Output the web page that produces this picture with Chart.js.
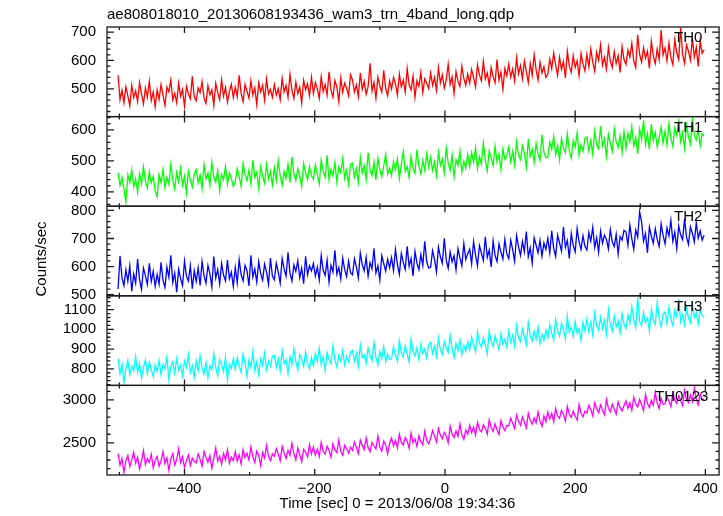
<!DOCTYPE html>
<html><head><meta charset="utf-8">
<script src="https://cdn.jsdelivr.net/npm/chart.js@4/dist/chart.umd.min.js"></script>
<style>html,body{margin:0;padding:0;background:#fff}#wrap{width:723px;height:516px;position:relative}</style>
</head><body><div id="wrap"><canvas id="c" width="723" height="516"></canvas></div>
<script>
const TITLE = 'ae808018010_20130608193436_wam3_trn_4band_long.qdp';
const X_TITLE = 'Time [sec] 0 = 2013/06/08 19:34:36';
const Y_TITLE = 'Counts/sec';
const BANDS = ['TH0', 'TH1', 'TH2', 'TH3', 'TH0123'];

const TIME = [
-502,-499,-496,-493,-490,-487,-484,-481,-478,-475,-472,-469,-466,-463,-460,-457,-454,-451,-448,-445,
-442,-439,-436,-433,-430,-427,-424,-421,-418,-415,-412,-409,-406,-403,-400,-397,-394,-391,-388,-385,
-382,-379,-376,-373,-370,-367,-364,-361,-358,-355,-352,-349,-346,-343,-340,-337,-334,-331,-328,-325,
-322,-319,-316,-313,-310,-307,-304,-301,-298,-295,-292,-289,-286,-283,-280,-277,-274,-271,-268,-265,
-262,-259,-256,-253,-250,-247,-244,-241,-238,-235,-232,-229,-226,-223,-220,-217,-214,-211,-208,-205,
-202,-199,-196,-193,-190,-187,-184,-181,-178,-175,-172,-169,-166,-163,-160,-157,-154,-151,-148,-145,
-142,-139,-136,-133,-130,-127,-124,-121,-118,-115,-112,-109,-106,-103,-100,-97,-94,-91,-88,-85,
-82,-79,-76,-73,-70,-67,-64,-61,-58,-55,-52,-49,-46,-43,-40,-37,-34,-31,-28,-25,
-22,-19,-16,-13,-10,-7,-4,-1,2,5,8,11,14,17,20,23,26,29,32,35,
38,41,44,47,50,53,56,59,62,65,68,71,74,77,80,83,86,89,92,95,
98,101,104,107,110,113,116,119,122,125,128,131,134,137,140,143,146,149,152,155,
158,161,164,167,170,173,176,179,182,185,188,191,194,197,200,203,206,209,212,215,
218,221,224,227,230,233,236,239,242,245,248,251,254,257,260,263,266,269,272,275,
278,281,284,287,290,293,296,299,302,305,308,311,314,317,320,323,326,329,332,335,
338,341,344,347,350,353,356,359,362,365,368,371,374,377,380,383,386,389,392,395,
398];

const TH0 = [
548,462,495,451,507,476,440,512,469,493,455,522,481,447,503,470,527,458,489,436,
497,463,515,478,442,506,489,531,460,484,451,520,473,498,438,509,482,465,544,471,
458,503,486,525,467,449,511,478,496,441,519,487,462,532,474,505,453,490,516,469,
506,472,548,483,455,515,492,467,529,478,503,444,521,489,512,460,535,481,498,470,
515,478,500,462,537,489,512,470,551,495,466,524,483,506,449,530,497,518,475,541,
483,522,501,467,543,490,515,478,560,496,471,529,507,455,538,488,520,502,476,549,
531,489,514,472,556,498,527,481,508,590,493,523,466,541,510,488,565,501,476,528,
499,540,518,478,552,507,531,489,571,514,496,545,470,528,509,558,487,535,520,501,
556,512,540,494,575,521,549,503,531,587,515,542,483,561,526,508,580,537,512,552,
520,568,539,507,584,548,528,597,535,556,513,575,542,521,603,531,559,498,571,546,
587,541,570,528,610,553,582,536,598,561,522,589,547,620,568,531,594,556,578,540,
552,605,571,626,584,547,612,569,596,538,633,580,558,617,575,599,546,624,587,563,
621,578,640,593,562,629,601,655,584,611,570,646,598,575,632,589,617,558,649,603,
586,637,612,661,598,575,690,621,594,645,608,632,572,668,615,589,641,603,707,620,
644,598,662,610,585,673,628,604,715,621,590,655,633,601,678,612,646,579,669,625,
638];

const TH1 = [
462,421,447,408,368,455,430,471,417,442,398,459,426,481,435,412,465,429,450,403,
385,456,431,473,414,447,425,489,438,409,462,433,477,421,451,397,468,440,416,458,
472,429,455,411,488,443,462,420,496,448,431,470,405,457,439,483,426,461,444,418,
433,476,449,417,492,458,436,470,425,503,447,464,412,481,452,429,488,441,467,423,
478,437,501,452,421,466,444,489,430,513,458,436,475,449,417,492,461,440,483,452,
441,487,455,426,503,468,447,518,439,474,452,495,431,481,462,508,444,470,425,489,
493,448,476,432,512,461,485,440,526,470,453,497,438,509,472,449,484,521,458,477,
452,498,471,506,443,489,530,466,482,447,515,477,460,537,484,458,501,469,523,480,
512,469,497,453,528,486,507,462,541,492,470,519,448,503,485,532,464,499,476,521,
481,527,496,542,475,513,490,558,503,468,532,509,485,547,497,523,472,538,505,516,
545,497,531,486,562,518,504,549,526,480,571,515,538,495,557,521,502,584,528,511,
512,561,538,579,520,549,503,572,541,527,588,534,509,566,545,591,518,553,531,572,
578,533,566,521,597,553,540,612,548,571,515,586,557,531,603,562,544,581,527,595,
540,589,561,611,548,576,523,603,570,631,553,588,537,619,566,592,545,574,609,558,
596,552,620,574,547,607,583,626,561,591,540,615,578,555,635,584,568,602,549,588,
579];

const TH2 = [
520,638,561,532,589,548,603,512,574,541,627,553,519,595,568,536,612,547,583,530,
572,537,615,551,526,598,562,640,543,577,509,591,558,532,620,566,548,603,521,585,
547,596,533,618,568,541,604,575,527,636,559,590,538,611,570,549,623,556,580,529,
597,542,625,571,549,604,586,531,640,563,592,545,618,575,552,609,581,537,630,566,
553,612,580,541,629,592,566,651,577,548,606,583,621,560,595,539,637,571,603,585,
611,566,598,552,640,587,569,623,544,605,581,658,573,597,556,630,590,564,619,578,
571,628,599,560,648,607,585,633,566,614,592,665,577,603,552,639,611,584,626,596,
632,586,661,608,573,647,615,590,672,601,629,567,654,612,589,643,604,690,618,595,
598,657,626,581,670,635,612,701,623,594,652,617,639,588,664,631,603,682,625,646,
662,610,689,641,603,675,648,622,706,633,659,599,692,640,618,681,652,627,697,645,
628,694,660,619,711,671,640,689,652,725,635,667,612,702,676,649,693,637,684,661,
701,648,727,665,636,712,684,655,741,669,693,629,718,676,652,735,688,661,710,672,
659,722,691,740,668,703,651,726,683,712,697,663,732,688,671,715,645,707,694,729,
724,676,748,699,661,731,705,795,759,690,718,649,741,708,683,735,697,672,752,711,
681,738,709,765,690,723,664,745,712,696,770,705,679,741,718,688,757,701,727,694,
712];

const TH3 = [
852,776,824,730,801,843,769,815,790,862,781,827,752,808,846,774,835,797,760,821,
787,842,769,823,800,861,745,812,836,778,851,793,820,764,839,807,872,781,816,758,
841,790,866,805,773,832,754,817,795,878,808,764,847,820,786,859,742,826,803,851,
797,857,812,783,875,829,761,846,808,889,791,836,770,851,818,880,795,839,812,864,
868,806,851,789,893,827,848,775,861,820,902,837,796,872,845,812,885,829,800,857,
815,877,839,905,821,860,792,883,850,826,917,845,808,869,838,893,820,862,834,886,
893,838,879,815,921,856,872,827,905,866,841,934,859,820,887,851,913,836,874,848,
851,912,870,838,943,884,859,917,875,835,952,889,864,906,847,926,878,900,855,921,
934,878,915,862,957,896,871,940,908,883,969,902,857,928,891,946,873,918,889,937,
896,961,922,887,985,934,908,959,920,875,992,941,913,968,930,897,978,925,951,910,
991,934,972,915,1018,955,938,1001,963,922,1034,969,941,989,950,1012,927,975,944,996,
956,1024,981,945,1049,992,966,1031,997,952,1068,985,1010,963,1040,978,1002,943,1036,991,
1052,989,1037,971,1083,1018,996,1061,1004,1045,975,1098,1021,990,1067,1012,1043,982,1079,1026,
1004,1072,1031,1115,1049,1008,1163,1040,1019,1086,1035,1058,991,1101,1047,1024,1138,1055,1013,1077,
1089,1030,1112,1051,1018,1096,1064,1152,1039,1075,1022,1108,1057,1033,1124,1062,1085,1026,1098,1071,
1060];

const TH0123 = [
2375,2241,2318,2156,2290,2352,2224,2301,2389,2262,2333,2195,2286,2410,2247,2315,2273,2366,2208,2297,
2341,2226,2289,2397,2258,2325,2180,2312,2375,2243,2301,2430,2269,2336,2214,2292,2358,2237,2320,2281,
2265,2372,2307,2229,2398,2331,2273,2352,2204,2319,2441,2286,2345,2251,2378,2301,2420,2262,2336,2293,
2398,2287,2361,2253,2420,2329,2378,2300,2452,2338,2271,2403,2356,2236,2385,2321,2467,2345,2294,2372,
2342,2431,2368,2290,2459,2384,2318,2412,2355,2496,2377,2302,2440,2361,2279,2423,2390,2336,2478,2369,
2451,2357,2428,2339,2507,2398,2370,2462,2415,2331,2489,2420,2384,2533,2402,2356,2471,2433,2379,2448,
2412,2509,2448,2377,2531,2470,2421,2555,2446,2396,2502,2463,2428,2579,2451,2402,2520,2475,2371,2492,
2556,2463,2529,2440,2601,2507,2472,2563,2521,2438,2614,2499,2545,2458,2582,2514,2476,2637,2526,2491,
2551,2643,2578,2509,2666,2590,2547,2622,2580,2500,2695,2603,2561,2638,2574,2720,2592,2541,2649,2598,
2705,2618,2684,2589,2741,2655,2627,2712,2670,2601,2768,2679,2633,2721,2650,2597,2758,2688,2642,2703,
2698,2786,2731,2669,2823,2750,2704,2801,2742,2675,2845,2760,2718,2789,2733,2860,2752,2691,2812,2745,
2861,2776,2843,2744,2900,2812,2785,2878,2831,2752,2925,2836,2797,2869,2810,2765,2946,2845,2802,2870,
2848,2938,2885,2814,2967,2899,2852,2941,2880,2826,3004,2903,2861,2948,2893,2832,2976,2910,2870,2933,
2990,2902,2967,2879,3031,2951,2918,3005,2942,2876,3062,2958,2911,2996,2937,3089,2963,2899,3020,2948,
2952,3043,2985,2921,3076,2997,2960,3048,2991,2933,3110,3006,2969,3057,2982,3135,3011,2945,3069,3002,
3010];

const SERIES = [TH0, TH1, TH2, TH3, TH0123];
const Y_MIN = [402, 354, 496, 716, 2125];
const Y_MAX = [718, 643, 815, 1170, 3169];
const Y_MAJOR = [100, 100, 100, 100, 500];
const Y_MINOR = [20, 20, 20, 20, 100];
const X_MIN = -519, X_MAX = 421, X_MAJOR = 200, X_MINOR = 100;

const COLORS = ['#ff0000', '#00ff00', '#0000ff', '#00ffff', '#ff00ff'];
const LABEL_X = [674, 674, 674, 674, 655];
const FONT = '"Liberation Sans", Arial, Helvetica, sans-serif';

Chart.defaults.font.family = FONT;
Chart.defaults.font.size = 15;
Chart.defaults.color = '#000';

const fmt = v => (v < 0 ? '\u2212' + Math.abs(v) : String(v));
const majorTicks = (min, max, step) => {
  const out = [];
  for (let v = Math.ceil(min / step) * step; v <= max; v += step) out.push({ value: v });
  return out;
};

const scales = {
  x: {
    type: 'linear', position: 'bottom', min: X_MIN, max: X_MAX,
    grid: { display: false, drawTicks: false }, border: { display: false },
    ticks: { padding: 5, autoSkip: false, maxRotation: 0, callback: fmt },
    afterBuildTicks: s => { s.ticks = majorTicks(X_MIN, X_MAX, X_MAJOR); },
    afterFit: s => { s.height = 41; }
  }
};
for (let i = SERIES.length - 1; i >= 0; i--) {
  scales['y' + i] = {
    type: 'linear', position: 'left', stack: 'panels', stackWeight: 1,
    min: Y_MIN[i], max: Y_MAX[i],
    grid: { display: false, drawTicks: false }, border: { display: false },
    ticks: { padding: 11, autoSkip: false, callback: v => String(v) },
    afterBuildTicks: s => { s.ticks = majorTicks(Y_MIN[i], Y_MAX[i], Y_MAJOR[i]); },
    afterFit: s => { s.width = 107; }
  };
}

const datasets = SERIES.map((arr, i) => ({
  label: BANDS[i],
  data: TIME.map((t, k) => ({ x: t, y: arr[k] })),
  borderColor: COLORS[i], backgroundColor: COLORS[i],
  borderWidth: 1.3, pointRadius: 0, tension: 0, fill: false,
  xAxisID: 'x', yAxisID: 'y' + i
}));

const qdpFrame = {
  id: 'qdpFrame',
  afterDatasetsDraw(chart) {
    const ctx = chart.ctx, ca = chart.chartArea, xs = chart.scales.x;
    ctx.save();
    ctx.strokeStyle = '#1a1a1a';
    ctx.lineWidth = 1.3;
    for (let i = 0; i < SERIES.length; i++) {
      const ys = chart.scales['y' + i];
      const top = ys.top, bot = ys.bottom;
      ctx.strokeRect(ca.left, top, ca.right - ca.left, bot - top);
      ctx.beginPath();
      const ys0 = Math.ceil(Y_MIN[i] / Y_MINOR[i]) * Y_MINOR[i];
      for (let v = ys0; v <= Y_MAX[i]; v += Y_MINOR[i]) {
        const p = ys.getPixelForValue(v);
        const len = (v % Y_MAJOR[i] === 0) ? 7 : 3.5;
        ctx.moveTo(ca.left, p); ctx.lineTo(ca.left + len, p);
        ctx.moveTo(ca.right, p); ctx.lineTo(ca.right - len, p);
      }
      const xs0 = Math.ceil(X_MIN / X_MINOR) * X_MINOR;
      for (let v = xs0; v <= X_MAX; v += X_MINOR) {
        const p = xs.getPixelForValue(v);
        const len = (v % X_MAJOR === 0) ? 6 : 3;
        ctx.moveTo(p, top); ctx.lineTo(p, top + len);
        ctx.moveTo(p, bot); ctx.lineTo(p, bot - len);
      }
      ctx.stroke();
      ctx.fillStyle = '#000';
      ctx.font = '15px ' + FONT;
      ctx.textAlign = 'left';
      ctx.textBaseline = 'middle';
      ctx.fillText(BANDS[i], LABEL_X[i], top + 11);
    }
    ctx.restore();
  },
  afterDraw(chart) {
    const ctx = chart.ctx;
    ctx.save();
    ctx.fillStyle = '#000';
    ctx.font = '15px ' + FONT;
    ctx.textAlign = 'center';
    ctx.textBaseline = 'middle';
    ctx.fillText(X_TITLE, 397.5, 504);
    ctx.translate(42, 259);
    ctx.rotate(-Math.PI / 2);
    ctx.fillText(Y_TITLE, 0, 0);
    ctx.restore();
  }
};

new Chart(document.getElementById('c'), {
  type: 'line',
  data: { datasets },
  options: {
    responsive: false, animation: false, devicePixelRatio: 1,
    layout: { padding: 0 },
    plugins: {
      legend: { display: false }, tooltip: { enabled: false },
      title: { display: true, text: TITLE, align: 'start', fullSize: false, color: '#000',
               font: { size: 15, weight: 'normal', family: FONT }, padding: { top: 6, bottom: 3 } }
    },
    scales
  },
  plugins: [qdpFrame]
});
</script></body></html>
